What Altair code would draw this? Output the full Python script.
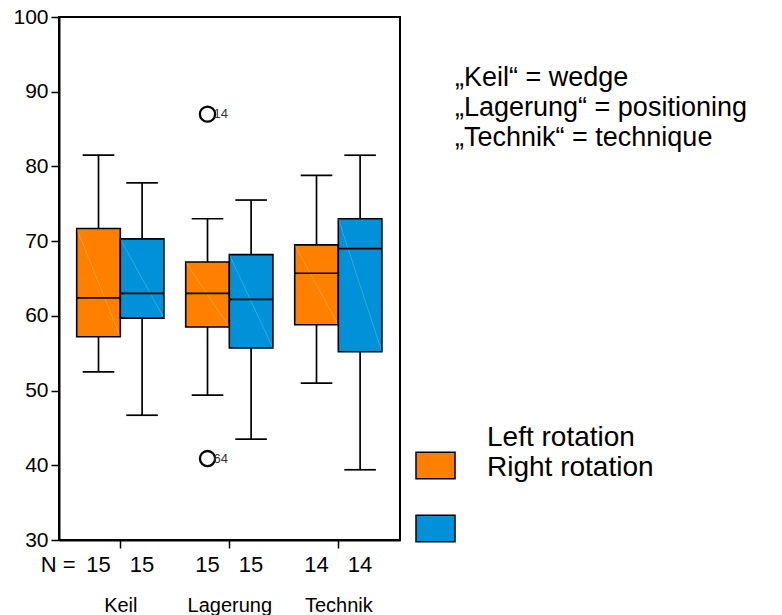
import altair as alt
import pandas as pd

# ---- data ----
groups = ["Keil", "Lagerung", "Technik"]
sides = ["Left rotation", "Right rotation"]
n_left = [15, 15, 14]
n_right = [15, 15, 14]
low_left = [52.5, 49.4, 51.0]
q1_left = [57.2, 58.5, 58.8]
med_left = [62.4, 63.0, 65.7]
q3_left = [71.7, 67.2, 69.5]
high_left = [81.5, 73.0, 78.8]
low_right = [46.7, 43.5, 39.4]
q1_right = [59.7, 55.7, 55.2]
med_right = [63.0, 62.2, 69.0]
q3_right = [70.3, 68.2, 73.0]
high_right = [77.8, 75.5, 81.5]
outlier_group = ["Lagerung", "Lagerung"]
outlier_side = ["Left rotation", "Left rotation"]
outlier_value = [87.0, 40.9]
outlier_case = ["14", "64"]
y_ticks = [30, 40, 50, 60, 70, 80, 90, 100]
notes = ["\u201eKeil\u201c = wedge", "\u201eLagerung\u201c = positioning", "\u201eTechnik\u201c = technique"]
colors = ["#FF7F00", "#0091D8"]

FONT = "Liberation Sans"
HALF = 0.2      # half box width (group units)
CAP = 0.145     # half cap width

rows = []
for gi, g in enumerate(groups):
    for si, s in enumerate(sides):
        if si == 0:
            vals = (low_left[gi], q1_left[gi], med_left[gi], q3_left[gi], high_left[gi], n_left[gi])
        else:
            vals = (low_right[gi], q1_right[gi], med_right[gi], q3_right[gi], high_right[gi], n_right[gi])
        c = gi + (-HALF if si == 0 else HALF)
        rows.append(dict(group=g, side=s, center=c, left=c - HALF, right=c + HALF,
                         capl=c - CAP, capr=c + CAP,
                         low=vals[0], q1=vals[1], med=vals[2], q3=vals[3], high=vals[4],
                         n=str(vals[5])))
df = pd.DataFrame(rows)

orows = []
for g, s, v, c in zip(outlier_group, outlier_side, outlier_value, outlier_case):
    gi = groups.index(g)
    si = sides.index(s)
    orows.append(dict(center=gi + (-HALF if si == 0 else HALF), value=v, case=c))
odf = pd.DataFrame(orows)

xscale = alt.Scale(domain=[-0.5624, 2.566], nice=False, zero=False)
yscale = alt.Scale(domain=[30, 100], nice=False, zero=False)

xaxis = alt.Axis(values=[0, 1, 2], labelExpr=f"{groups}[datum.value]", grid=False,
                 tickSize=8, tickColor="black", tickWidth=1.5, domainColor="black",
                 domainWidth=2, labelFontSize=20, labelFont=FONT, labelColor="black",
                 labelPadding=47, title=None)
yaxis = alt.Axis(values=y_ticks, grid=False, tickSize=8, tickColor="black", tickWidth=1.5,
                 domainColor="black", domainWidth=2, labelFontSize=21, labelFont=FONT,
                 labelColor="black", labelPadding=3, title=None)

base = alt.Chart(df)

boxes = base.mark_bar(stroke="black", strokeWidth=1.6, opacity=1).encode(
    x=alt.X("left:Q", scale=xscale, axis=xaxis),
    x2="right:Q",
    y=alt.Y("q3:Q", scale=yscale, axis=yaxis),
    y2="q1:Q",
    color=alt.Color("side:N", scale=alt.Scale(domain=sides, range=colors),
                    legend=alt.Legend(title=None, orient="none", legendX=356, legendY=428,
                                      direction="vertical",
                                      symbolType="M-1,-0.68H1V0.68H-1Z", symbolSize=1521,
                                      symbolStrokeColor="black", symbolStrokeWidth=1.5,
                                      symbolOpacity=1, labelExpr="''", padding=0,
                                      rowPadding=26)),
)

diag = base.mark_rule(color="white", opacity=0.3, strokeWidth=0.7).encode(
    x="left:Q", x2="right:Q", y="q3:Q", y2="q1:Q")

SW = 1.7
whisk_hi = base.mark_rule(color="black", strokeWidth=SW).encode(x="center:Q", y="q3:Q", y2="high:Q")
whisk_lo = base.mark_rule(color="black", strokeWidth=SW).encode(x="center:Q", y="low:Q", y2="q1:Q")
cap_hi = base.mark_rule(color="black", strokeWidth=SW).encode(x="capl:Q", x2="capr:Q", y="high:Q")
cap_lo = base.mark_rule(color="black", strokeWidth=SW).encode(x="capl:Q", x2="capr:Q", y="low:Q")
median = base.mark_rule(color="black", strokeWidth=SW).encode(x="left:Q", x2="right:Q", y="med:Q")

outl = alt.Chart(odf).mark_point(shape="circle", filled=False, color="black", strokeWidth=2.3,
                                 size=230, opacity=1).encode(x="center:Q", y="value:Q")
outl_lbl = alt.Chart(odf).mark_text(align="left", baseline="middle", dx=6, fontSize=13,
                                    font=FONT, color="#333333").encode(
    x="center:Q", y="value:Q", text="case:N")

nlbl = base.mark_text(fontSize=22, font=FONT, color="black", baseline="middle").encode(
    x="center:Q", y=alt.value(548), text="n:N")
nprefix = alt.Chart(df.iloc[[0]]).mark_text(fontSize=22, font=FONT, color="black",
                                            baseline="middle", align="right", dx=-23,
                                            text="N  =").encode(x="center:Q", y=alt.value(548))

note_txt = alt.Chart(df.iloc[[0]]).mark_text(text=notes, lineHeight=30, fontSize=27, font=FONT,
                                             color="black", align="left",
                                             baseline="alphabetic").encode(
    x=alt.value(396), y=alt.value(69))
leg_txt = alt.Chart(df.iloc[[0]]).mark_text(text=sides, lineHeight=30, fontSize=28, font=FONT,
                                            color="black", align="left",
                                            baseline="alphabetic").encode(
    x=alt.value(428), y=alt.value(429))

chart = alt.layer(boxes, diag, whisk_hi, whisk_lo, cap_hi, cap_lo, median, outl, outl_lbl,
                  nlbl, nprefix, note_txt, leg_txt).properties(
    width=341, height=523,
    autosize=alt.AutoSizeParams(type="none"),
    padding={"left": 59, "top": 17, "right": 382, "bottom": 75},
    background="white",
).configure_view(stroke="black", strokeWidth=2)

chart.save("out.html", embed_options={"renderer": "svg", "actions": False})
